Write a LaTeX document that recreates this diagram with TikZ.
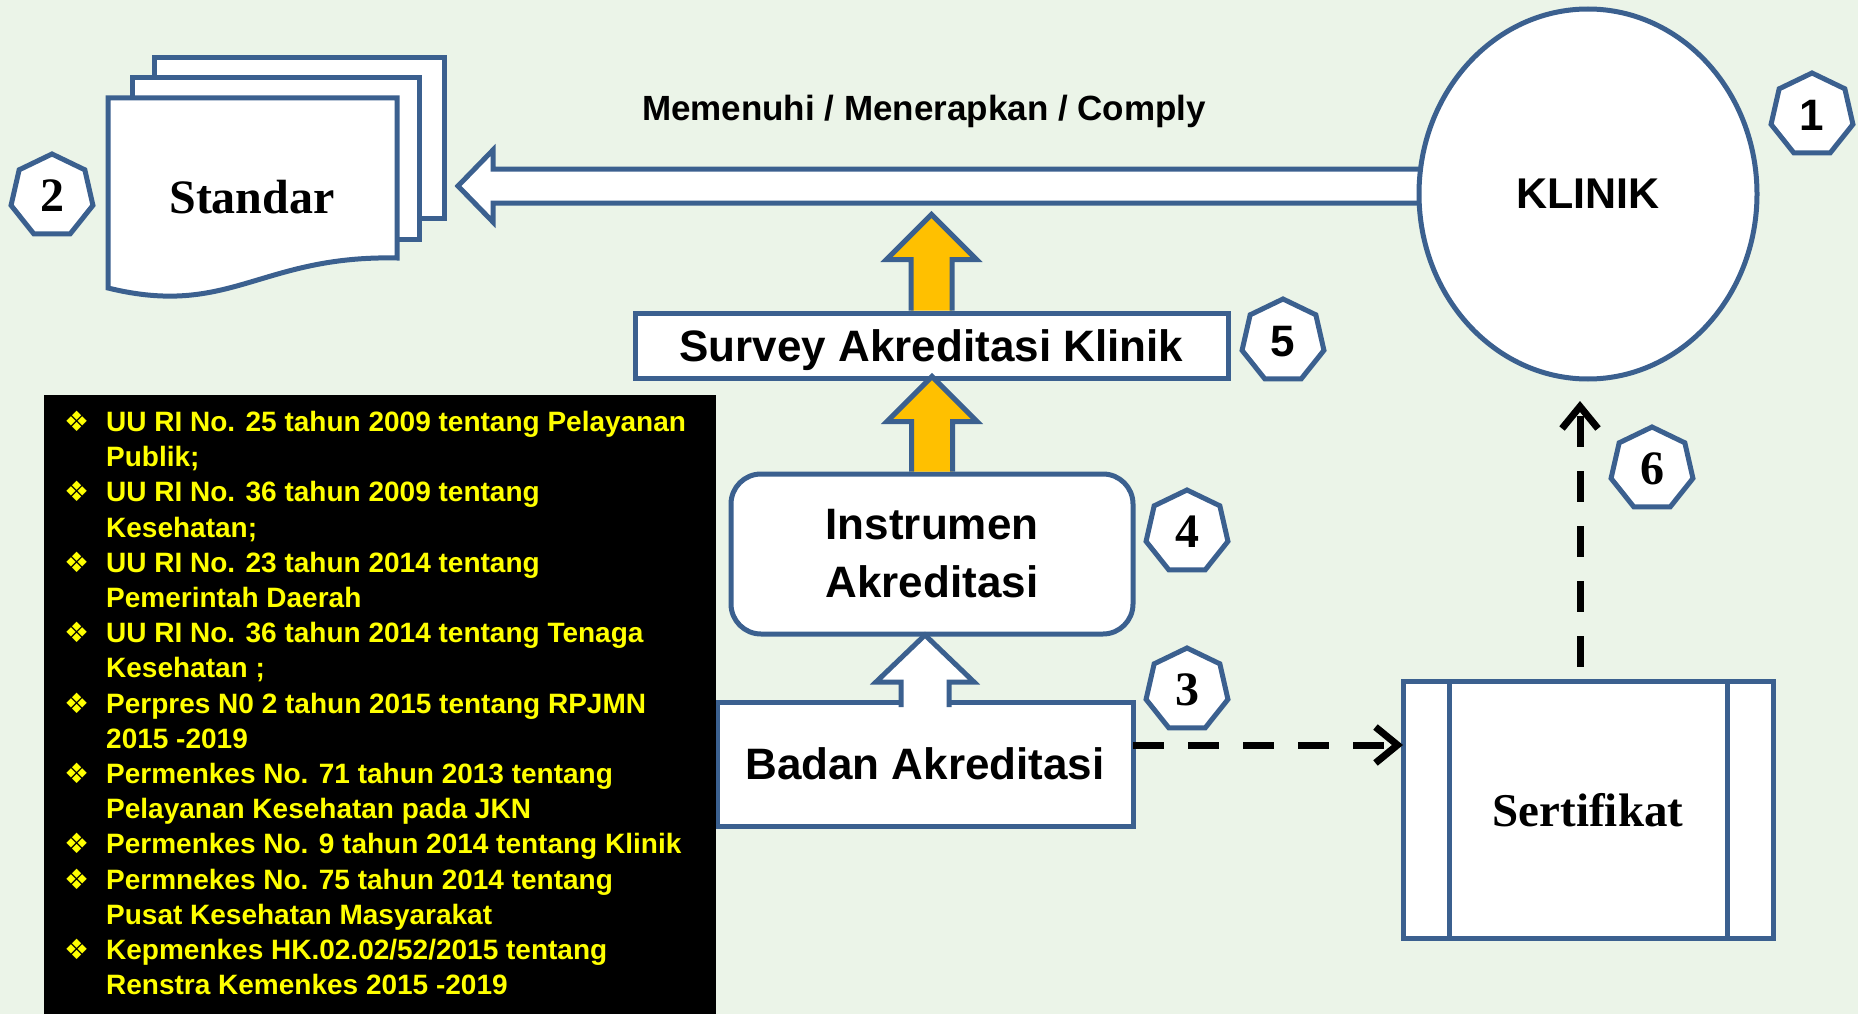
\documentclass[tikz,border=0pt]{standalone}
\usepackage{fontspec}
\setmainfont{Liberation Serif}
\newfontfamily\headfont{Liberation Sans}
\newfontfamily\dingfont{DejaVu Sans}
\usetikzlibrary{shapes.geometric,arrows.meta,calc}
\definecolor{bgcol}{RGB}{235,244,232}
\definecolor{edge}{RGB}{59,96,143}
\definecolor{gold}{RGB}{255,192,0}
\definecolor{lawyellow}{RGB}{255,255,0}
\newcommand{\lawitem}{\makebox[42pt][l]{\dingfont\fontsize{28}{28}\selectfont ❖}}
\newcommand{\lawcont}{\hspace*{42pt}}

\begin{document}
\begin{tikzpicture}[x=1pt,y=-1pt,line join=miter,
  blk/.style={draw=edge,line width=5pt,fill=white,outer sep=0pt},
  box/.style={blk,rectangle,inner sep=0pt,text depth=0pt,
    font=\headfont\bfseries\fontsize{44}{58}\selectfont},
  badge/.style={blk,regular polygon,regular polygon sides=7,minimum size=84pt,
    inner sep=0pt,text depth=0pt},
  serifnum/.style={badge,font=\bfseries\fontsize{48}{48}\selectfont},
  sansnum/.style={badge,font=\headfont\bfseries\fontsize{44}{44}\selectfont},
  goldarrow/.style={draw=edge,line width=5pt,fill=gold},
  dasharrow/.style={line width=7pt,dash pattern=on 31pt off 24pt,
    -{Straight Barb[length=22pt,width=36pt]}}]
\useasboundingbox (0,0) rectangle (1858,1014);
\fill[bgcol] (0,0) rectangle (1858,1014);

% Standar: stacked documents
\draw[blk] (154,58) rectangle (444,218);
\draw[blk] (132,78) rectangle (419,239);
\draw[blk] (108,98) -- (397,98) -- (397,258)
  .. controls (260,255) and (230,318) .. (108,288) -- cycle;
\node[font=\bfseries\fontsize{48}{48}\selectfont,text depth=0pt] (standar) at (252,197) {Standar};
\coordinate (comply) at (458,186);

% big arrow from KLINIK to Standar
\draw[blk] (1588,169) -- (493,169) -- (493,150) -- (comply) -- (493,222) -- (493,203) -- (1588,203);
\node[blk,ellipse,minimum width=338pt,minimum height=370pt,inner sep=0pt,
  font=\headfont\bfseries\fontsize{43}{43}\selectfont] (klinik) at (1588,194) {KLINIK};
\node[anchor=base,font=\headfont\bfseries\fontsize{35}{35}\selectfont] (memenuhi) at (924,121)
  {Memenuhi / Menerapkan / Comply};

% boxes
\node[box,minimum width=593pt,minimum height=65pt] (survey) at (931.5,345.5) {Survey Akreditasi Klinik};
\node[box,minimum width=402pt,minimum height=160pt,rounded corners=30pt,align=center,text depth=]
  (instrumen) at (932,554) {\raisebox{-3pt}{Instrumen}\\\raisebox{-3pt}{Akreditasi}};
\node[box,minimum width=416pt,minimum height=124pt] (badan) at (925,764) {Badan Akreditasi};
\node[box,minimum width=370pt,minimum height=257pt,font=\bfseries\fontsize{47}{47}\selectfont]
  (sertifikat) at (1588,810) {Sertifikat};
\draw[draw=edge,line width=5pt] ($(sertifikat.north west)+(46,0)$) -- ($(sertifikat.south west)+(46,0)$);
\draw[draw=edge,line width=5pt] ($(sertifikat.north east)+(-46,0)$) -- ($(sertifikat.south east)+(-46,0)$);

% block arrows
\draw[goldarrow] ($(survey.north)+(-20.5,-2.5)$) -- ++(0,-51) -- ++(-24.5,0) -- ++(45,-45)
  -- ++(45,45) -- ++(-24.5,0) -- ++(0,51);
\draw[goldarrow] ($(instrumen.north)+(-20.5,-2.5)$) -- ++(0,-50) -- ++(-24.5,0) -- ++(45,-45)
  -- ++(45,45) -- ++(-24.5,0) -- ++(0,50);
\draw[blk] ($(badan.north)+(-24,5)$) -- ++(0,-25) -- ++(-25,0) -- ($(badan.north)+(0,-67)$)
  -- ++(49,47) -- ++(-25,0) -- ++(0,25);

% dashed arrows
\draw[dasharrow] ($(badan.east)+(0,-19)$) -- ($(badan.east -| sertifikat.west)+(0,-19)$);
\draw[dasharrow,shorten <=15pt,shorten >=22pt] ($(sertifikat.north)+(-8,0)$) -- ($(klinik.south)+(-8,0)$);

% numbers
\node[sansnum] (num1) at (1812,115) {1};
\node[serifnum] (num2) at (52,196) {2};
\node[serifnum] (num3) at (1187,690) {3};
\node[serifnum] (num4) at (1187,532) {4};
\node[sansnum] (num5) at (1283,341) {5};
\node[serifnum] (num6) at (1652,469) {6};

% dasar hukum
\node[fill=black,anchor=north west,minimum width=672pt,minimum height=625pt,inner sep=0pt]
  (dasarbox) at (44,395) {};
\node[anchor=north west,inner sep=0pt,align=left,text=lawyellow,
  font=\headfont\bfseries\fontsize{28}{35.2}\selectfont] (dasar) at (64,411) {%
\lawitem UU RI No. 25 tahun 2009 tentang Pelayanan\\
\lawcont Publik;\\
\lawitem UU RI No. 36 tahun 2009 tentang\\
\lawcont Kesehatan;\\
\lawitem UU RI No. 23 tahun 2014 tentang\\
\lawcont Pemerintah Daerah\\
\lawitem UU RI No. 36 tahun 2014 tentang  Tenaga\\
\lawcont Kesehatan ;\\
\lawitem Perpres N0 2 tahun 2015 tentang RPJMN\\
\lawcont 2015 -2019\\
\lawitem Permenkes No. 71 tahun 2013 tentang\\
\lawcont Pelayanan Kesehatan pada JKN\\
\lawitem Permenkes No. 9 tahun 2014 tentang Klinik\\
\lawitem Permnekes No. 75 tahun 2014 tentang\\
\lawcont Pusat Kesehatan Masyarakat\\
\lawitem Kepmenkes HK.02.02/52/2015 tentang\\
\lawcont Renstra Kemenkes 2015 -2019};
\end{tikzpicture}
\end{document}
